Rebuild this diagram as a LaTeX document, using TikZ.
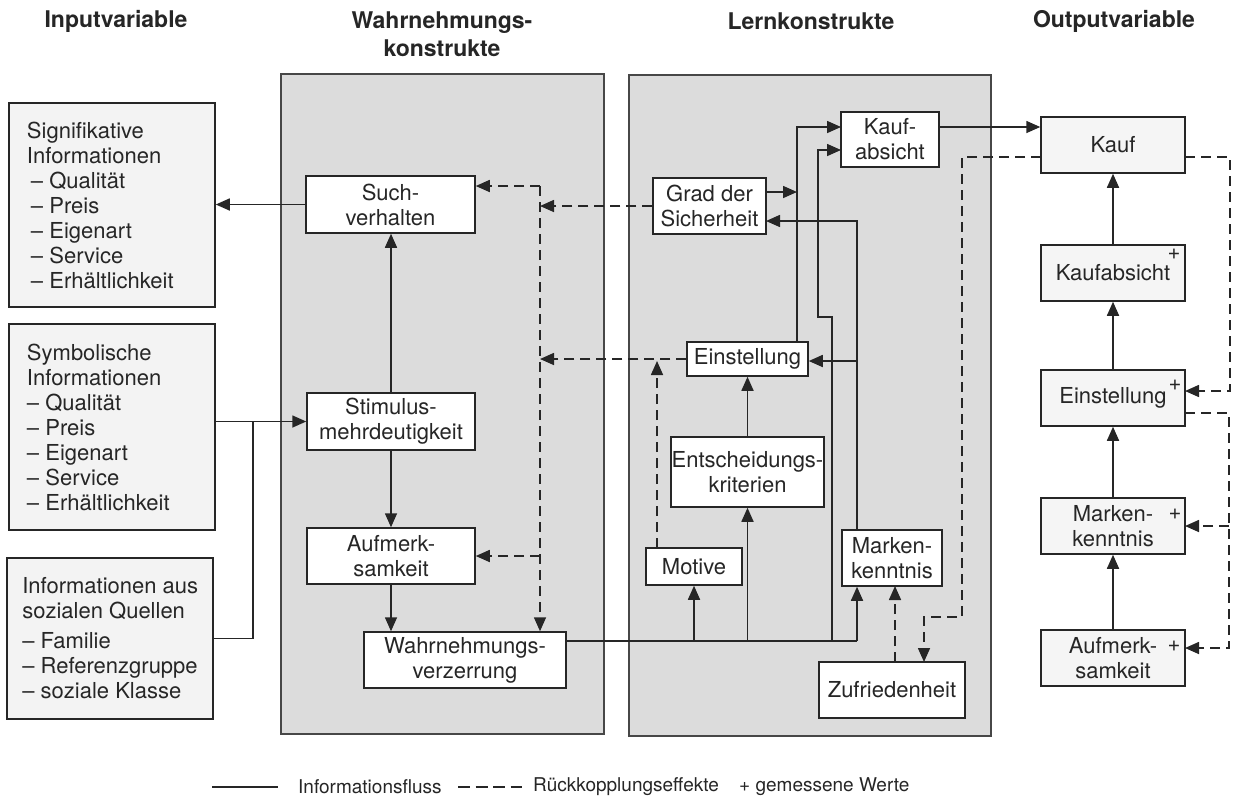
\documentclass[tikz,border=0pt]{standalone}
\usepackage{fontspec}
\setmainfont{TeX Gyre Heros}
\usetikzlibrary{arrows.meta}
\definecolor{ink}{HTML}{262626}
\definecolor{panelgray}{HTML}{DCDCDC}
\definecolor{inboxgray}{HTML}{F3F3F3}
\definecolor{outboxgray}{HTML}{F5F5F5}
\newcommand\firstln[1]{\makebox[170pt][l]{#1}}
\begin{document}
\begin{tikzpicture}[x=1pt,y=-1pt,
  txt/.style={text=ink,font=\fontsize{22}{25}\selectfont},
  legtxt/.style={text=ink,font=\fontsize{19}{22}\selectfont,anchor=west,inner sep=0pt},
  head/.style={text=ink,font=\fontsize{23}{28}\selectfont\bfseries,align=center},
  bx/.style={draw=ink,line width=1.5pt,fill=white,inner sep=0pt,align=center,txt},
  inbx/.style={bx,fill=inboxgray,align=left,minimum width=206pt},
  outbx/.style={bx,fill=outboxgray},
  ln/.style={draw=ink,line width=1.6pt},
  dsh/.style={ln,dash pattern=on 10pt off 6pt},
  arr/.style={-{Triangle[length=14pt,width=12pt]}},
  panelbox/.style={draw=ink!85,fill=panelgray,line width=1.5pt}
]
\useasboundingbox (0,0) rectangle (1233,804);

% headings
\node[head] (h1) at (116,21) {Inputvariable};
\node[head] (h2) at (442,34) {Wahrnehmungs-\\konstrukte};
\node[head] (h3) at (811,21) {Lernkonstrukte};
\node[head] (h4) at (1114,21) {Outputvariable};

% panels
\draw[panelbox] (281,74) rectangle (604,734);
\draw[panelbox] (629,75) rectangle (991,736);

% input boxes
\node[inbx,minimum height=204pt] (sig) at (112,205)
  {\firstln{Signifikative}\\Informationen\\\hspace*{4pt}– Qualität\\\hspace*{4pt}– Preis\\\hspace*{4pt}– Eigenart\\\hspace*{4pt}– Service\\\hspace*{4pt}– Erhältlichkeit};
\node[inbx,minimum height=206pt] (sym) at (112,427)
  {\firstln{Symbolische}\\Informationen\\– Qualität\\– Preis\\– Eigenart\\– Service\\– Erhältlichkeit};
\node[inbx,minimum height=161pt] (soz) at (110,638.5)
  {\firstln{Informationen aus}\\sozialen Quellen\\[5pt]– Familie\\– Referenzgruppe\\– soziale Klasse};

% perception constructs
\node[bx,minimum width=169pt,minimum height=57pt] (such) at (390.5,204.5) {Such-\\verhalten};
\node[bx,minimum width=168pt,minimum height=57pt] (stim) at (391,421.5) {Stimulus-\\mehrdeutigkeit};
\node[bx,minimum width=168pt,minimum height=56pt] (aufw) at (391,556) {Aufmerk-\\samkeit};
\node[bx,minimum width=202pt,minimum height=56pt] (wv) at (465,660) {Wahrnehmungs-\\verzerrung};

% learning constructs
\node[bx,minimum width=98pt,minimum height=55pt] (kaufab) at (890,139.5) {Kauf-\\absicht};
\node[bx,minimum width=113pt,minimum height=56pt] (grad) at (709.5,206) {Grad der\\Sicherheit};
\node[bx,minimum width=121pt,minimum height=34pt] (einst) at (747.5,359) {Einstellung};
\node[bx,minimum width=153pt,minimum height=70pt] (entsch) at (747.5,472) {Entscheidungs-\\kriterien};
\node[bx,minimum width=96pt,minimum height=37pt] (motive) at (694,566.5) {Motive};
\node[bx,minimum width=100pt,minimum height=56pt] (marken) at (892,558) {Marken-\\kenntnis};
\node[bx,minimum width=146pt,minimum height=56pt] (zufr) at (892,690) {Zufriedenheit};

% output variables
\node[outbx,minimum width=144pt,minimum height=56pt] (okauf) at (1113,145) {Kauf};
\node[outbx,minimum width=144pt,minimum height=56pt] (okaufab) at (1113,273) {Kaufabsicht};
\node[outbx,minimum width=144pt,minimum height=56pt] (oeinst) at (1113,398) {Einstellung};
\node[outbx,minimum width=144pt,minimum height=56pt] (omarken) at (1113,526) {Marken-\\kenntnis};
\node[outbx,minimum width=144pt,minimum height=56pt] (oaufm) at (1113,658) {Aufmerk-\\samkeit};
\node[txt,inner sep=0pt] (p1) at (1174,254) {+};
\node[txt,inner sep=0pt] (p2) at (1175,385) {+};
\node[txt,inner sep=0pt] (p3) at (1175,514) {+};
\node[txt,inner sep=0pt] (p4) at (1174,646) {+};

% input connectors
\draw[ln,arr] (such.west) -- (such.west -| sig.east);
\draw[ln,arr] (sym.east |- stim.west) -- (stim.west);
\coordinate (jn) at (253,421.5);
\draw[ln] (soz.east) -| (jn);

% perception connectors
\draw[ln,arr] (stim.north) -- (stim.north |- such.south);
\draw[ln,arr] (stim.south) -- (stim.south |- aufw.north);
\draw[ln,arr] (aufw.south) -- (aufw.south |- wv.north);

% feedback in perception panel
\coordinate (fbt) at (540,186);
\draw[dsh,arr] (fbt) -- (fbt -| such.east);
\draw[dsh,arr] (fbt) -- (fbt |- wv.north);
\draw[dsh,arr] (aufw.east -| fbt) -- (aufw.east);
\draw[dsh,arr] (grad.west) -- (grad.west -| fbt);
\draw[dsh,arr] (einst.west) -- (einst.west -| fbt);

% bus from Wahrnehmungsverzerrung
\coordinate (bus0) at (566,641);
\coordinate (busM) at (857,641);
\draw[ln] (bus0) -- (busM);
\draw[ln,arr] (busM) -- (busM |- marken.south);
\draw[ln,arr] (motive.south |- bus0) -- (motive.south);
\draw[ln,arr] (entsch.south |- bus0) -- (entsch.south);
\draw[ln,arr] (entsch.north) -- (einst.south);
\coordinate (k1) at (832,641);
\coordinate (k2) at (818,317);
\coordinate (k3) at (841,150);
\draw[ln,arr] (k1) |- (k2) |- (k3);
\coordinate (e1) at (797,342);
\coordinate (e2) at (841,127);
\draw[ln,arr] (e1) |- (e2);
\coordinate (g1) at (766,192);
\coordinate (g2) at (797,192);
\draw[ln,arr] (g1) -- (g2);
\coordinate (m1) at (857,530);
\coordinate (m2) at (766,221);
\draw[ln,arr] (m1) |- (m2);
\coordinate (m3) at (857,361);
\draw[ln,arr] (m3) -- (m3 -| einst.east);
\coordinate (mo1) at (657,548);
\coordinate (mo2) at (657,361);
\draw[dsh,arr] (mo1) -- (mo2);
\coordinate (z1) at (895,662);
\coordinate (z2) at (895,586);
\draw[dsh,arr] (z1) -- (z2);

% to output
\coordinate (ka1) at (939,127);
\draw[ln,arr] (ka1) -- (ka1 -| okauf.west);
\coordinate (f1) at (1041,157);
\coordinate (f2) at (962,617);
\coordinate (f3) at (924,662);
\draw[dsh,arr] (f1) -| (f2) -| (f3);
\coordinate (r1) at (1185,157);
\coordinate (r2) at (1230,391);
\coordinate (r3) at (1185,391);
\draw[dsh,arr] (r1) -| (r2) -- (r3);
\coordinate (s1) at (1185,413);
\coordinate (s2) at (1229,648);
\coordinate (s3) at (1185,648);
\draw[dsh,arr] (s1) -| (s2) -- (s3);
\coordinate (s4) at (1229,526);
\coordinate (s5) at (1185,526);
\draw[dsh,arr] (s4) -- (s5);

% output chain
\draw[ln,arr] (oaufm.north) -- (omarken.south);
\draw[ln,arr] (omarken.north) -- (oeinst.south);
\draw[ln,arr] (oeinst.north) -- (okaufab.south);
\draw[ln,arr] (okaufab.north) -- (okauf.south);

% legend
\coordinate (l1) at (212,787);
\coordinate (l2) at (278,787);
\draw[ln,line width=1.3pt] (l1) -- (l2);
\node[legtxt] (lt1) at (298,787) {Informationsfluss};
\coordinate (l3) at (458,787);
\coordinate (l4) at (522,787);
\draw[ln,line width=1.3pt,dash pattern=on 12pt off 5.5pt] (l3) -- (l4);
\node[legtxt] (lt2) at (533,787) {Rückkopplungseffekte};
\node[legtxt] (lt3) at (739,787) {+ gemessene Werte};
\end{tikzpicture}
\end{document}
